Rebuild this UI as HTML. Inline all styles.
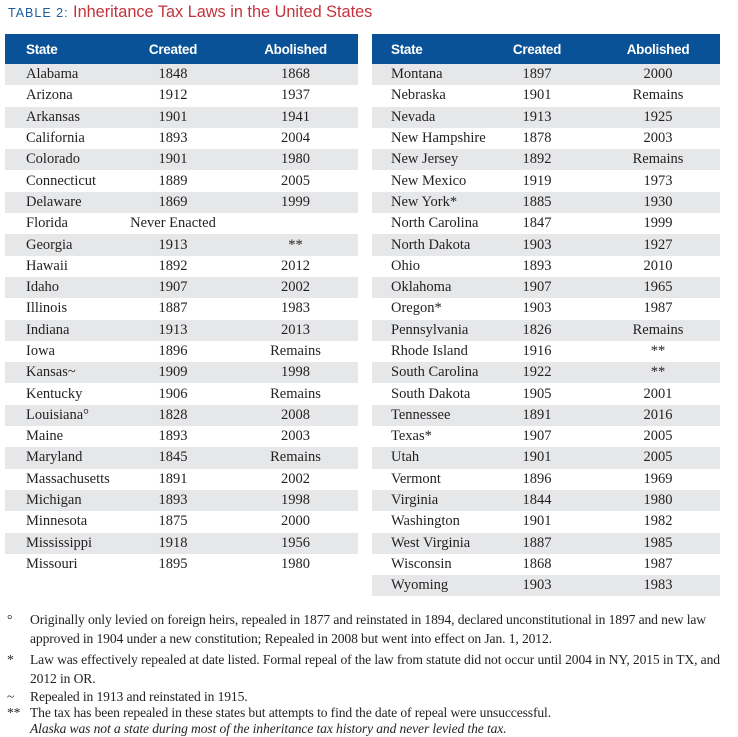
<!DOCTYPE html>
<html><head><meta charset="utf-8"><style>
body{margin:0;width:738px;height:735px;background:#fff;position:relative;overflow:hidden;font-family:"Liberation Serif",serif;color:#231f20}
.t{position:absolute;left:8px;top:0;font-family:"Liberation Sans",sans-serif;white-space:nowrap}
.t .a{color:#1d5c9e;font-size:12.5px;letter-spacing:1px}
.t .b{color:#c4333d;font-size:16.3px}
.tb{position:absolute;top:34px;border-collapse:collapse;font-size:14.5px;table-layout:fixed;white-space:nowrap}
.tb th{background:#0a5297;color:#fff;font-family:"Liberation Sans",sans-serif;font-weight:bold;font-size:13.5px;height:30px;padding:0;letter-spacing:-0.3px}
.tb td{height:21.3px;padding:0;line-height:21px;overflow:visible}
.tb tr:nth-child(even) td{background:#e6e7e8}
.tb td:first-child,.tb th:first-child{text-align:left;padding-left:21px}
.tb td,.tb th{text-align:center}
.f{position:absolute;left:0;font-size:13.6px;white-space:nowrap;letter-spacing:-0.12px}
.f span{position:absolute;left:7px}
.f div{position:absolute;left:30px}
</style></head><body>
<div class="t" style="top:3px"><span class="a">TABLE 2: </span><span class="b">Inheritance Tax Laws in the United States</span></div>
<table class="tb" style="left:5px;width:353px"><colgroup><col style="width:108px"><col style="width:120px"><col style="width:125px"></colgroup>
<tr><th>State</th><th>Created</th><th>Abolished</th></tr>
<tr><td>Alabama</td><td>1848</td><td>1868</td></tr>
<tr><td>Arizona</td><td>1912</td><td>1937</td></tr>
<tr><td>Arkansas</td><td>1901</td><td>1941</td></tr>
<tr><td>California</td><td>1893</td><td>2004</td></tr>
<tr><td>Colorado</td><td>1901</td><td>1980</td></tr>
<tr><td>Connecticut</td><td>1889</td><td>2005</td></tr>
<tr><td>Delaware</td><td>1869</td><td>1999</td></tr>
<tr><td>Florida</td><td>Never Enacted</td><td></td></tr>
<tr><td>Georgia</td><td>1913</td><td>**</td></tr>
<tr><td>Hawaii</td><td>1892</td><td>2012</td></tr>
<tr><td>Idaho</td><td>1907</td><td>2002</td></tr>
<tr><td>Illinois</td><td>1887</td><td>1983</td></tr>
<tr><td>Indiana</td><td>1913</td><td>2013</td></tr>
<tr><td>Iowa</td><td>1896</td><td>Remains</td></tr>
<tr><td>Kansas~</td><td>1909</td><td>1998</td></tr>
<tr><td>Kentucky</td><td>1906</td><td>Remains</td></tr>
<tr><td>Louisiana°</td><td>1828</td><td>2008</td></tr>
<tr><td>Maine</td><td>1893</td><td>2003</td></tr>
<tr><td>Maryland</td><td>1845</td><td>Remains</td></tr>
<tr><td>Massachusetts</td><td>1891</td><td>2002</td></tr>
<tr><td>Michigan</td><td>1893</td><td>1998</td></tr>
<tr><td>Minnesota</td><td>1875</td><td>2000</td></tr>
<tr><td>Mississippi</td><td>1918</td><td>1956</td></tr>
<tr><td>Missouri</td><td>1895</td><td>1980</td></tr>
</table>
<table class="tb" style="left:372px;width:348px"><colgroup><col style="width:106px"><col style="width:118px"><col style="width:124px"></colgroup>
<tr><th style="padding-left:19px">State</th><th>Created</th><th>Abolished</th></tr>
<tr><td style="padding-left:19px">Montana</td><td>1897</td><td>2000</td></tr>
<tr><td style="padding-left:19px">Nebraska</td><td>1901</td><td>Remains</td></tr>
<tr><td style="padding-left:19px">Nevada</td><td>1913</td><td>1925</td></tr>
<tr><td style="padding-left:19px">New Hampshire</td><td>1878</td><td>2003</td></tr>
<tr><td style="padding-left:19px">New Jersey</td><td>1892</td><td>Remains</td></tr>
<tr><td style="padding-left:19px">New Mexico</td><td>1919</td><td>1973</td></tr>
<tr><td style="padding-left:19px">New York*</td><td>1885</td><td>1930</td></tr>
<tr><td style="padding-left:19px">North Carolina</td><td>1847</td><td>1999</td></tr>
<tr><td style="padding-left:19px">North Dakota</td><td>1903</td><td>1927</td></tr>
<tr><td style="padding-left:19px">Ohio</td><td>1893</td><td>2010</td></tr>
<tr><td style="padding-left:19px">Oklahoma</td><td>1907</td><td>1965</td></tr>
<tr><td style="padding-left:19px">Oregon*</td><td>1903</td><td>1987</td></tr>
<tr><td style="padding-left:19px">Pennsylvania</td><td>1826</td><td>Remains</td></tr>
<tr><td style="padding-left:19px">Rhode Island</td><td>1916</td><td>**</td></tr>
<tr><td style="padding-left:19px">South Carolina</td><td>1922</td><td>**</td></tr>
<tr><td style="padding-left:19px">South Dakota</td><td>1905</td><td>2001</td></tr>
<tr><td style="padding-left:19px">Tennessee</td><td>1891</td><td>2016</td></tr>
<tr><td style="padding-left:19px">Texas*</td><td>1907</td><td>2005</td></tr>
<tr><td style="padding-left:19px">Utah</td><td>1901</td><td>2005</td></tr>
<tr><td style="padding-left:19px">Vermont</td><td>1896</td><td>1969</td></tr>
<tr><td style="padding-left:19px">Virginia</td><td>1844</td><td>1980</td></tr>
<tr><td style="padding-left:19px">Washington</td><td>1901</td><td>1982</td></tr>
<tr><td style="padding-left:19px">West Virginia</td><td>1887</td><td>1985</td></tr>
<tr><td style="padding-left:19px">Wisconsin</td><td>1868</td><td>1987</td></tr>
<tr><td style="padding-left:19px">Wyoming</td><td>1903</td><td>1983</td></tr>
</table>
<div class="f" style="top:612px"><span>°</span><div>Originally only levied on foreign heirs, repealed in 1877 and reinstated in 1894, declared unconstitutional in 1897 and new law</div></div>
<div class="f" style="top:631px"><div>approved in 1904 under a new constitution; Repealed in 2008 but went into effect on Jan. 1, 2012.</div></div>
<div class="f" style="top:652px"><span>*</span><div>Law was effectively repealed at date listed. Formal repeal of the law from statute did not occur until 2004 in NY, 2015 in TX, and</div></div>
<div class="f" style="top:671px"><div>2012 in OR.</div></div>
<div class="f" style="top:689px"><span>~</span><div>Repealed in 1913 and reinstated in 1915.</div></div>
<div class="f" style="top:705px"><span>**</span><div>The tax has been repealed in these states but attempts to find the date of repeal were unsuccessful.</div></div>
<div class="f" style="top:721px"><div><i>Alaska was not a state during most of the inheritance tax history and never levied the tax.</i></div></div>
</body></html>
